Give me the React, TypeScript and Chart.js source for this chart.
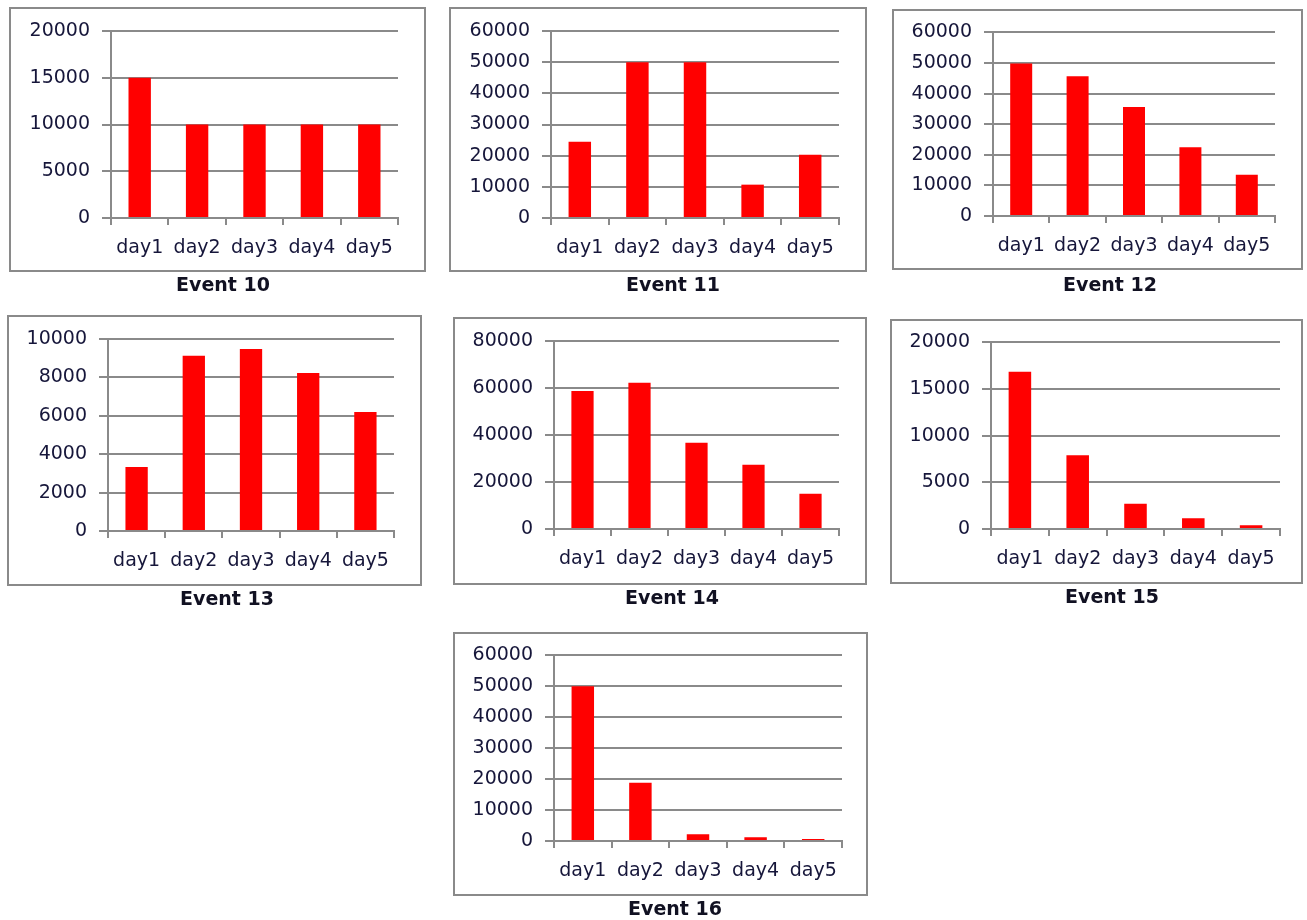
import React, { useEffect, useRef } from "react";
import { Chart, registerables } from "chart.js";

Chart.register(...registerables);

// ---- data ----
const days = ["day1", "day2", "day3", "day4", "day5"];
const event10 = [15000, 10000, 10000, 10000, 10000];
const event11 = [24500, 50000, 50000, 10700, 20300];
const event12 = [49800, 45700, 35600, 22500, 13500];
const event13 = [3330, 9130, 9480, 8230, 6200];
const event14 = [58700, 62200, 36700, 27300, 15000];
const event15 = [16850, 7900, 2700, 1150, 400];
const event16 = [50000, 18800, 2200, 1200, 650];
const titles = ["Event 10", "Event 11", "Event 12", "Event 13", "Event 14", "Event 15", "Event 16"];
const seriesList = [event10, event11, event12, event13, event14, event15, event16];
const yMax = [20000, 60000, 60000, 10000, 80000, 20000, 60000];
const yStep = [5000, 10000, 10000, 2000, 20000, 5000, 10000];

// ---- layout (box position/size and plot area relative to box) ----
type Box = { x: number; y: number; w: number; h: number; axis: number; right: number; top: number; zero: number; tx: number; ty: number };
const boxes: Box[] = [
  { x: 9, y: 7, w: 417, h: 265, axis: 102, right: 389, top: 24, zero: 211, tx: 223, ty: 284 },
  { x: 449, y: 7, w: 418, h: 265, axis: 102, right: 390, top: 24, zero: 211, tx: 673, ty: 284 },
  { x: 892, y: 9, w: 411, h: 261, axis: 101, right: 383, top: 23, zero: 207, tx: 1110, ty: 284 },
  { x: 7, y: 315, w: 415, h: 271, axis: 101, right: 387, top: 24, zero: 216, tx: 227, ty: 598 },
  { x: 453, y: 317, w: 414, h: 268, axis: 101, right: 386, top: 24, zero: 212, tx: 672, ty: 597 },
  { x: 890, y: 319, w: 413, h: 265, axis: 101, right: 390, top: 23, zero: 210, tx: 1112, ty: 596 },
  { x: 453, y: 632, w: 415, h: 264, axis: 101, right: 389, top: 21, zero: 209, tx: 675, ty: 908 },
];

const GRID = "#8a8a8a";
const TEXT = "#16163a";
const FONT = "'DejaVu Sans', Verdana, sans-serif";

function MiniChart({ values, max, step, L }: { values: number[]; max: number; step: number; L: Box }) {
  const ref = useRef<HTMLCanvasElement>(null);
  useEffect(() => {
    const chart = new Chart(ref.current as HTMLCanvasElement, {
      type: "bar",
      data: {
        labels: days,
        datasets: [
          {
            data: values,
            backgroundColor: "#ff0000",
            borderWidth: 0,
            barPercentage: 0.39,
            categoryPercentage: 1,
          },
        ],
      },
      options: {
        animation: false,
        responsive: false,
        maintainAspectRatio: false,
        events: [],
        layout: { padding: { left: 0, top: L.top, right: L.w - L.right, bottom: 0 } },
        plugins: { legend: { display: false }, tooltip: { enabled: false }, title: { display: false } },
        scales: {
          x: {
            grid: { display: true, drawOnChartArea: false, offset: true, color: GRID, lineWidth: 2, tickLength: 7, tickColor: GRID },
            border: { color: GRID, width: 2 },
            ticks: { font: { family: FONT, size: 19 }, color: TEXT, padding: 12, maxRotation: 0, autoSkip: false },
            afterFit: (s: any) => {
              s.height = L.h - L.zero;
            },
          },
          y: {
            min: 0,
            max: max,
            ticks: { stepSize: step, callback: (v: any) => String(v), font: { family: FONT, size: 19 }, color: TEXT, padding: 12 },
            grid: { color: GRID, lineWidth: 2, tickLength: 9, tickColor: GRID },
            border: { color: GRID, width: 2 },
            afterFit: (s: any) => {
              s.width = L.axis;
            },
          },
        },
      },
    } as any);
    return () => chart.destroy();
  }, []);
  return (
    <canvas
      ref={ref}
      width={L.w}
      height={L.h}
      style={{ position: "absolute", left: 0, top: 0, width: L.w, height: L.h }}
    />
  );
}

export default function App() {
  return (
    <div style={{ position: "absolute", left: 0, top: 0, width: 1307, height: 920, background: "#fff", overflow: "hidden" }}>
      {boxes.map((L, i) => (
        <React.Fragment key={i}>
          <div style={{ position: "absolute", left: L.x, top: L.y, width: L.w, height: L.h }}>
            <MiniChart values={seriesList[i]} max={yMax[i]} step={yStep[i]} L={L} />
            <div
              style={{
                position: "absolute",
                left: 0,
                top: 0,
                width: L.w,
                height: L.h,
                boxSizing: "border-box",
                border: "2px solid " + GRID,
                pointerEvents: "none",
              }}
            />
          </div>
          <div
            style={{
              position: "absolute",
              left: L.tx - 100,
              top: L.ty - 11,
              width: 200,
              textAlign: "center",
              fontFamily: FONT,
              fontWeight: "bold",
              fontSize: 19,
              lineHeight: "22px",
              color: "#111122",
            }}
          >
            {titles[i]}
          </div>
        </React.Fragment>
      ))}
    </div>
  );
}
